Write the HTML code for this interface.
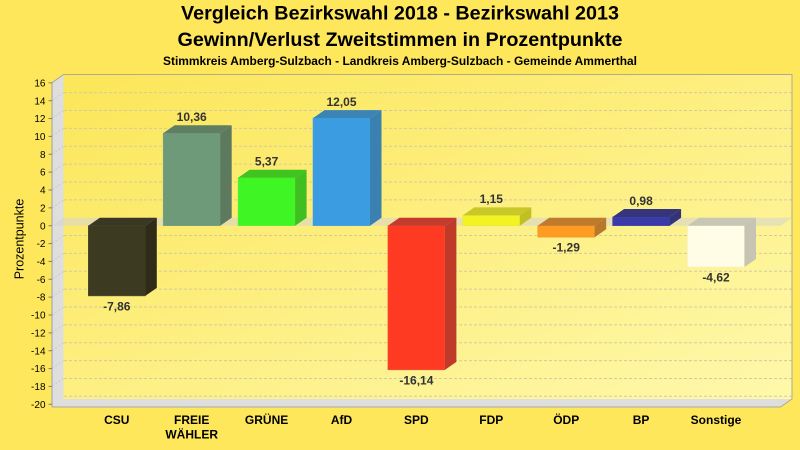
<!DOCTYPE html>
<html>
<head>
<meta charset="utf-8">
<style>
html,body{margin:0;padding:0;background:#fee75b;}
svg{display:block;}
text{font-family:"Liberation Sans",Arial,sans-serif;}
</style>
</head>
<body>
<svg width="800" height="450" viewBox="0 0 800 450" xmlns="http://www.w3.org/2000/svg">
<defs>
<linearGradient id="wall" x1="0" y1="0" x2="1" y2="1">
<stop offset="0" stop-color="#fce658"/>
<stop offset="1" stop-color="#fef8ab"/>
</linearGradient>
</defs>
<rect x="0" y="0" width="800" height="450" fill="#fee75b"/>

<!-- Titles -->
<text x="400" y="19.5" text-anchor="middle" font-size="19.7" font-weight="bold" fill="#000" textLength="438" lengthAdjust="spacingAndGlyphs">Vergleich Bezirkswahl 2018 - Bezirkswahl 2013</text>
<text x="400" y="46" text-anchor="middle" font-size="19.7" font-weight="bold" fill="#000" textLength="445" lengthAdjust="spacingAndGlyphs">Gewinn/Verlust Zweitstimmen in Prozentpunkte</text>
<text x="400" y="65" text-anchor="middle" font-size="11.5" font-weight="bold" fill="#000" textLength="474" lengthAdjust="spacingAndGlyphs">Stimmkreis Amberg-Sulzbach - Landkreis Amberg-Sulzbach - Gemeinde Ammerthal</text>

<!-- Back wall -->
<rect x="63.5" y="74.5" width="728.5" height="324.5" fill="url(#wall)"/>
<!-- Side wall -->
<polygon points="52,82.8 63.5,74.5 63.5,399 52,407" fill="#dedede"/>
<!-- Floor -->
<polygon points="52,407 63.5,399 792,399 780.5,407" fill="#dedede"/>

<!-- Grid lines on back wall -->
<g stroke="#d2cba0" stroke-width="1" stroke-dasharray="3,2" fill="none">
<line x1="64" y1="92.68" x2="792" y2="92.68"/>
<line x1="64" y1="110.54" x2="792" y2="110.54"/>
<line x1="64" y1="128.4" x2="792" y2="128.4"/>
<line x1="64" y1="146.26" x2="792" y2="146.26"/>
<line x1="64" y1="164.12" x2="792" y2="164.12"/>
<line x1="64" y1="181.98" x2="792" y2="181.98"/>
<line x1="64" y1="199.84" x2="792" y2="199.84"/>
<line x1="64" y1="235.56" x2="792" y2="235.56"/>
<line x1="64" y1="253.42" x2="792" y2="253.42"/>
<line x1="64" y1="271.28" x2="792" y2="271.28"/>
<line x1="64" y1="289.14" x2="792" y2="289.14"/>
<line x1="64" y1="307" x2="792" y2="307"/>
<line x1="64" y1="324.86" x2="792" y2="324.86"/>
<line x1="64" y1="342.72" x2="792" y2="342.72"/>
<line x1="64" y1="360.58" x2="792" y2="360.58"/>
<line x1="64" y1="378.44" x2="792" y2="378.44"/>
<line x1="64" y1="396.3" x2="792" y2="396.3"/>
</g>
<!-- Side wall diagonal grid -->
<g stroke="#c8c8c8" stroke-width="1" stroke-dasharray="2,2" fill="none">
<line x1="52" y1="100.68" x2="63.5" y2="92.68"/>
<line x1="52" y1="118.54" x2="63.5" y2="110.54"/>
<line x1="52" y1="136.4" x2="63.5" y2="128.4"/>
<line x1="52" y1="154.26" x2="63.5" y2="146.26"/>
<line x1="52" y1="172.12" x2="63.5" y2="164.12"/>
<line x1="52" y1="189.98" x2="63.5" y2="181.98"/>
<line x1="52" y1="207.84" x2="63.5" y2="199.84"/>
<line x1="52" y1="243.56" x2="63.5" y2="235.56"/>
<line x1="52" y1="261.42" x2="63.5" y2="253.42"/>
<line x1="52" y1="279.28" x2="63.5" y2="271.28"/>
<line x1="52" y1="297.14" x2="63.5" y2="289.14"/>
<line x1="52" y1="315" x2="63.5" y2="307"/>
<line x1="52" y1="332.86" x2="63.5" y2="324.86"/>
<line x1="52" y1="350.72" x2="63.5" y2="342.72"/>
<line x1="52" y1="368.58" x2="63.5" y2="360.58"/>
<line x1="52" y1="386.44" x2="63.5" y2="378.44"/>
</g>

<!-- Wall borders -->
<g stroke="#b0ab90" stroke-width="1" fill="none">
<polyline points="52,82.8 63.5,74.5 792,74.5 792,399 780.5,407"/>
<line x1="52" y1="407" x2="780.5" y2="407" stroke="#a8a8a8"/>
<line x1="52" y1="82.8" x2="52" y2="407" stroke="#a0a0a0"/>
</g>

<!-- Zero band -->
<polygon points="52,225.7 63.5,217.7 792,217.7 780.5,225.7" fill="#d4d4d4" opacity="0.55"/>

<!-- Bars -->
<!-- CSU -->
<rect x="88.3" y="225.7" width="57" height="70.19" fill="#3d3a22" stroke="#55522e" stroke-width="0.6"/>
<polygon points="88.3,225.7 99.8,217.7 156.8,217.7 145.3,225.7" fill="#3a3824"/>
<polygon points="145.3,225.7 156.8,217.7 156.8,287.89 145.3,295.89" fill="#2e2c18"/>
<!-- FREIE WÄHLER -->
<rect x="163.2" y="133.19" width="57" height="92.51" fill="#6e9a7a" stroke="#7aa585" stroke-width="0.6"/>
<polygon points="163.2,133.19 174.7,125.19 231.7,125.19 220.2,133.19" fill="#5f7e62"/>
<polygon points="220.2,133.19 231.7,125.19 231.7,217.7 220.2,225.7" fill="#5e7a5e"/>
<!-- GRÜNE -->
<rect x="238.1" y="177.75" width="57" height="47.95" fill="#3ff524" stroke="#60f040" stroke-width="0.6"/>
<polygon points="238.1,177.75 249.6,169.75 306.6,169.75 295.1,177.75" fill="#40c420"/>
<polygon points="295.1,177.75 306.6,169.75 306.6,217.7 295.1,225.7" fill="#40c020"/>
<!-- AfD -->
<rect x="313" y="118.09" width="57" height="107.61" fill="#3b9ce2" stroke="#4aa6e4" stroke-width="0.6"/>
<polygon points="313,118.09 324.5,110.09 381.5,110.09 370,118.09" fill="#3a84b6"/>
<polygon points="370,118.09 381.5,110.09 381.5,217.7 370,225.7" fill="#3a80b0"/>
<!-- SPD -->
<rect x="387.9" y="225.7" width="57" height="144.13" fill="#ff3a22" stroke="#f05a3a" stroke-width="0.6"/>
<polygon points="387.9,225.7 399.4,217.7 456.4,217.7 444.9,225.7" fill="#c43a2c"/>
<polygon points="444.9,225.7 456.4,217.7 456.4,361.83 444.9,369.83" fill="#c03a2a"/>
<!-- FDP -->
<rect x="462.8" y="215.43" width="57" height="10.27" fill="#f3f222" stroke="#e8e840" stroke-width="0.6"/>
<polygon points="462.8,215.43 474.3,207.43 531.3,207.43 519.8,215.43" fill="#c8c828"/>
<polygon points="519.8,215.43 531.3,207.43 531.3,217.7 519.8,225.7" fill="#c0c024"/>
<!-- ÖDP -->
<rect x="537.7" y="225.7" width="57" height="11.52" fill="#ff9a22" stroke="#f0a040" stroke-width="0.6"/>
<polygon points="537.7,225.7 549.2,217.7 606.2,217.7 594.7,225.7" fill="#c07a2c"/>
<polygon points="594.7,225.7 606.2,217.7 606.2,229.22 594.7,237.22" fill="#b8782a"/>
<!-- BP -->
<rect x="612.6" y="216.95" width="57" height="8.75" fill="#3a3aa8" stroke="#5050b0" stroke-width="0.6"/>
<polygon points="612.6,216.95 624.1,208.95 681.1,208.95 669.6,216.95" fill="#35357c"/>
<polygon points="669.6,216.95 681.1,208.95 681.1,217.7 669.6,225.7" fill="#33337a"/>
<!-- Sonstige -->
<rect x="687.5" y="225.7" width="57" height="41.26" fill="#fffde6" stroke="#f4f0d0" stroke-width="0.6"/>
<polygon points="687.5,225.7 699,217.7 756,217.7 744.5,225.7" fill="#c8c6b4"/>
<polygon points="744.5,225.7 756,217.7 756,258.96 744.5,266.96" fill="#c6c4b2"/>

<!-- Value labels -->
<g font-size="12" font-weight="bold" fill="#333" text-anchor="middle">
<text x="116.8" y="310.4">-7,86</text>
<text x="191.7" y="121.2">10,36</text>
<text x="266.6" y="165.7">5,37</text>
<text x="341.5" y="106">12,05</text>
<text x="416.4" y="384.3">-16,14</text>
<text x="491.3" y="203.2">1,15</text>
<text x="566.2" y="251.7">-1,29</text>
<text x="641.1" y="204.9">0,98</text>
<text x="716" y="281.5">-4,62</text>
</g>

<!-- Y ticks -->
<g stroke="#808080" stroke-width="1">
<line x1="48.5" y1="82.82" x2="52" y2="82.82"/>
<line x1="48.5" y1="100.68" x2="52" y2="100.68"/>
<line x1="48.5" y1="118.54" x2="52" y2="118.54"/>
<line x1="48.5" y1="136.4" x2="52" y2="136.4"/>
<line x1="48.5" y1="154.26" x2="52" y2="154.26"/>
<line x1="48.5" y1="172.12" x2="52" y2="172.12"/>
<line x1="48.5" y1="189.98" x2="52" y2="189.98"/>
<line x1="48.5" y1="207.84" x2="52" y2="207.84"/>
<line x1="48.5" y1="225.7" x2="52" y2="225.7"/>
<line x1="48.5" y1="243.56" x2="52" y2="243.56"/>
<line x1="48.5" y1="261.42" x2="52" y2="261.42"/>
<line x1="48.5" y1="279.28" x2="52" y2="279.28"/>
<line x1="48.5" y1="297.14" x2="52" y2="297.14"/>
<line x1="48.5" y1="315" x2="52" y2="315"/>
<line x1="48.5" y1="332.86" x2="52" y2="332.86"/>
<line x1="48.5" y1="350.72" x2="52" y2="350.72"/>
<line x1="48.5" y1="368.58" x2="52" y2="368.58"/>
<line x1="48.5" y1="386.44" x2="52" y2="386.44"/>
<line x1="48.5" y1="404.3" x2="52" y2="404.3"/>
</g>
<g font-size="10" fill="#000" text-anchor="end">
<text x="45.5" y="86.4">16</text>
<text x="45.5" y="104.3">14</text>
<text x="45.5" y="122.1">12</text>
<text x="45.5" y="140">10</text>
<text x="45.5" y="157.9">8</text>
<text x="45.5" y="175.7">6</text>
<text x="45.5" y="193.6">4</text>
<text x="45.5" y="211.4">2</text>
<text x="45.5" y="229.3">0</text>
<text x="45.5" y="247.2">-2</text>
<text x="45.5" y="265">-4</text>
<text x="45.5" y="282.9">-6</text>
<text x="45.5" y="300.7">-8</text>
<text x="45.5" y="318.6">-10</text>
<text x="45.5" y="336.5">-12</text>
<text x="45.5" y="354.3">-14</text>
<text x="45.5" y="372.2">-16</text>
<text x="45.5" y="390">-18</text>
<text x="45.5" y="407.9">-20</text>
</g>

<!-- Y axis title -->
<text transform="translate(23.5,239) rotate(-90)" text-anchor="middle" font-size="12.5" fill="#000">Prozentpunkte</text>

<!-- Category labels -->
<g font-size="12" font-weight="bold" fill="#000" text-anchor="middle">
<text x="116.8" y="424">CSU</text>
<text x="191.7" y="424">FREIE</text>
<text x="191.7" y="438.5">WÄHLER</text>
<text x="266.6" y="424">GRÜNE</text>
<text x="341.5" y="424">AfD</text>
<text x="416.4" y="424">SPD</text>
<text x="491.3" y="424">FDP</text>
<text x="566.2" y="424">ÖDP</text>
<text x="641.1" y="424">BP</text>
<text x="716" y="424">Sonstige</text>
</g>
</svg>
</body>
</html>
